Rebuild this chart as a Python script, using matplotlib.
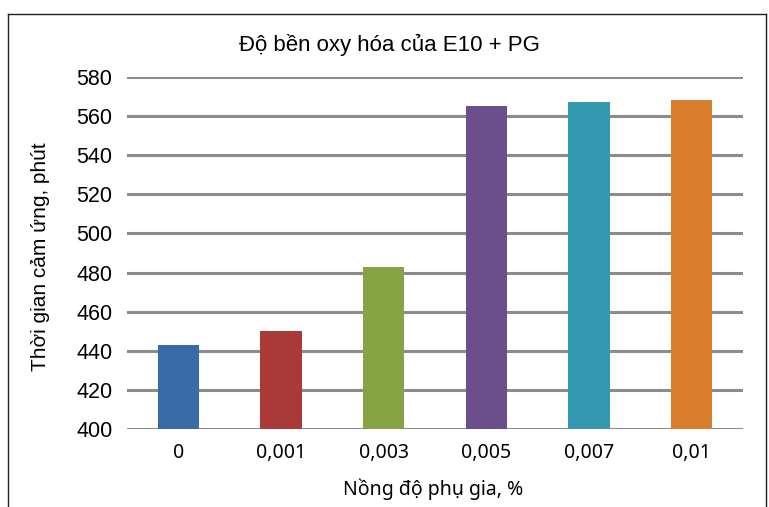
import matplotlib
matplotlib.use("Agg")
import matplotlib.pyplot as plt
from matplotlib.lines import Line2D

# Oxidation stability of E10 fuel with PG additive
concentrations = ["0", "0,001", "0,003", "0,005", "0,007", "0,01"]
induction_time = [443, 450, 483, 565, 567, 568]
bar_colors = ["#386BA8", "#A93A38", "#87A444", "#6B4F8C", "#3398B0", "#D97E2C"]
y_ticks = [400, 420, 440, 460, 480, 500, 520, 540, 560, 580]

title = "Độ bền oxy hóa của E10 + PG"
x_label = "Nồng độ phụ gia, %"
y_label = "Thời gian cảm ứng, phút"

W, H = 769, 507
fig = plt.figure(figsize=(W / 100, H / 100), dpi=100)
ax = fig.add_axes([127 / W, 1 - 429 / H, (743 - 127) / W, (429 - 77) / H])

x = range(len(concentrations))
ax.bar(x, induction_time, width=0.4, color=bar_colors, zorder=3)

ax.set_ylim(400, 580)
ax.set_xlim(-0.5, len(concentrations) - 0.5)
ax.set_yticks(y_ticks)
ax.yaxis.grid(True, color="#8c8c8c", linewidth=2.2, zorder=0)
ax.set_axisbelow(True)
for s in ax.spines.values():
    s.set_visible(False)
ax.tick_params(axis="both", length=0)
ax.tick_params(axis="y", pad=10.5)
ax.tick_params(axis="x", pad=10)

ax.set_xticks(list(x))
ax.set_xticklabels(concentrations, fontsize=14, family="Noto Sans")
for lbl in ax.get_yticklabels():
    lbl.set_family("Liberation Sans")
    lbl.set_fontsize(15.5)

fig.text(389 / W, 1 - 45 / H, title, ha="center", va="center",
         fontsize=16, family="Liberation Sans")
fig.text(433 / W, 1 - 489 / H, x_label, ha="center", va="center",
         fontsize=14, family="Noto Sans")
fig.text(41 / W, 1 - 257 / H, y_label, ha="center", va="center",
         rotation=90, fontsize=15, family="Liberation Sans")

# Frame around the figure (bottom edge falls outside the canvas)
l, r, t = 7.5 / W, 765.5 / W, 1 - 13.5 / H
for xs, ys in [([l, l], [0, t]), ([l, r], [t, t]), ([r, r], [t, 0])]:
    fig.add_artist(Line2D(xs, ys, color="#222222", linewidth=1.0,
                          transform=fig.transFigure))

fig.savefig("out.png", dpi=100)
